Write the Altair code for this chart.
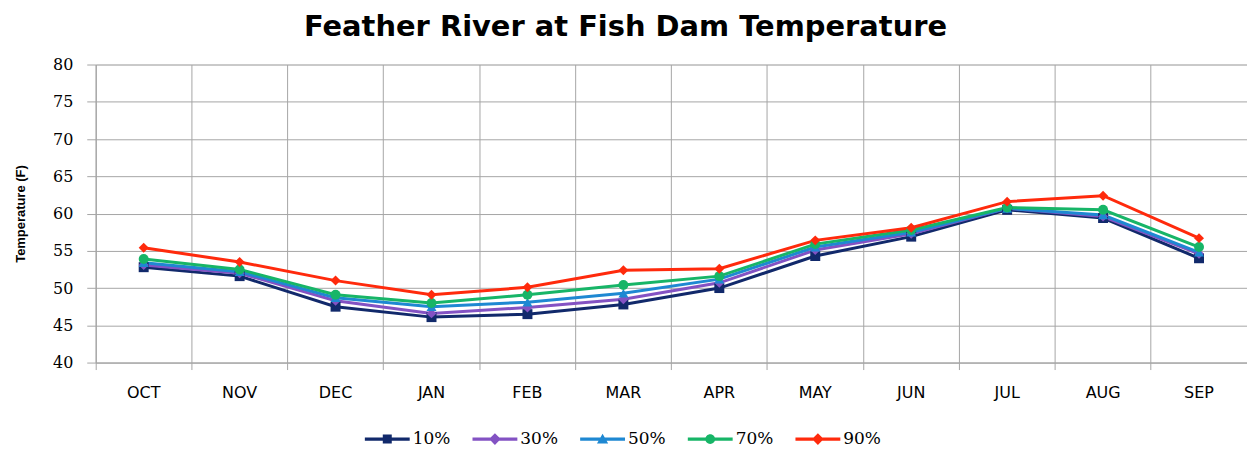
import altair as alt
import pandas as pd

months = ["OCT", "NOV", "DEC", "JAN", "FEB", "MAR", "APR", "MAY", "JUN", "JUL", "AUG", "SEP"]
series_names = ["10%", "30%", "50%", "70%", "90%"]
p10 = [52.8, 51.6, 47.5, 46.1, 46.5, 47.8, 50.0, 54.3, 56.9, 60.5, 59.4, 54.0]
p30 = [53.1, 52.0, 48.3, 46.6, 47.4, 48.5, 50.7, 55.1, 57.3, 60.7, 59.6, 54.6]
p50 = [53.4, 52.2, 48.7, 47.5, 48.1, 49.3, 51.2, 55.5, 57.5, 60.7, 59.8, 54.8]
p70 = [53.9, 52.5, 49.1, 48.0, 49.1, 50.4, 51.6, 55.9, 57.8, 60.8, 60.5, 55.5]
p90 = [55.4, 53.5, 51.0, 49.1, 50.1, 52.4, 52.6, 56.4, 58.1, 61.6, 62.4, 56.7]
colors = ["#11296B", "#8352C3", "#1E88D2", "#17B567", "#FF2A0C"]
shapes = ["square", "diamond", "triangle-up", "circle", "diamond"]

# legend glyphs: a short line with the marker in the middle
_bar = "M-1,-0.07H1V0.07H-1Z"
legend_shapes = [
    _bar + "M-0.2,-0.2H0.2V0.2H-0.2Z",
    _bar + "M0,-0.26L0.26,0L0,0.26L-0.26,0Z",
    _bar + "M0,-0.24L0.25,0.2H-0.25Z",
    _bar + "M-0.22,0A0.22,0.22,0,1,1,0.22,0A0.22,0.22,0,1,1,-0.22,0Z",
    _bar + "M0,-0.26L0.26,0L0,0.26L-0.26,0Z",
]

rows = []
for name, vals in zip(series_names, [p10, p30, p50, p70, p90]):
    for m, v in zip(months, vals):
        rows.append({"Month": m, "Series": name, "Temp": v})
df = pd.DataFrame(rows)

GRID = "#A6A6A6"

x_enc = alt.X(
    "Month:N",
    sort=months,
    scale=alt.Scale(type="band", paddingInner=0, paddingOuter=0),
    axis=alt.Axis(
        title=None, grid=True, bandPosition=0, labelAngle=0,
        labelFont="DejaVu Sans", labelFontSize=16, labelColor="#000000",
        labelPadding=15, tickSize=7, tickColor=GRID, domainColor=GRID,
        gridColor=GRID, gridWidth=1,
    ),
)
y_enc = alt.Y(
    "Temp:Q",
    scale=alt.Scale(domain=[40, 80], nice=False, zero=False),
    axis=alt.Axis(
        title="Temperature (F)", values=list(range(40, 81, 5)),
        labelFont="DejaVu Serif", labelFontSize=16, labelColor="#000000",
        labelPadding=14, tickSize=9, tickColor=GRID, domainColor=GRID,
        gridColor=GRID, gridWidth=1,
        titleFont="Liberation Sans", titleFontSize=13, titleFontWeight="bold",
        titleColor="#000000", titlePadding=25,
    ),
)


def cscale():
    return alt.Scale(domain=series_names, range=colors)


lines = alt.Chart(df).mark_line(strokeWidth=3).encode(
    x=x_enc, y=y_enc, color=alt.Color("Series:N", scale=cscale(), legend=None)
)
points = alt.Chart(df).mark_point(filled=True, size=100, opacity=1).encode(
    x=x_enc,
    y=y_enc,
    color=alt.Color("Series:N", scale=cscale(), legend=None),
    shape=alt.Shape("Series:N", scale=alt.Scale(domain=series_names, range=shapes), legend=None),
)

leg = alt.Legend(
    title=None, orient="none", legendX=270, legendY=353, direction="horizontal",
    labelFont="DejaVu Serif", labelFontSize=17, labelColor="#000000",
    labelOffset=3, symbolSize=2025, symbolStrokeWidth=0, columnPadding=22,
    padding=0,
)
legend_layer = (
    alt.Chart(df)
    .transform_filter("false")
    .mark_point(filled=True, opacity=1)
    .encode(
        x=x_enc,
        y=y_enc,
        color=alt.Color("Series:N", scale=cscale(), legend=leg),
        shape=alt.Shape("Series:N", scale=alt.Scale(domain=series_names, range=legend_shapes), legend=leg),
    )
)

chart = (
    alt.layer(lines, points, legend_layer)
    .resolve_scale(color="independent", shape="independent")
    .properties(
        width=1155,
        height=299,
        title=alt.Title(
            "Feather River at  Fish Dam Temperature",
            font="DejaVu Sans", fontSize=29, fontWeight="bold", color="#000000",
            anchor="middle", offset=15, dx=-46,
        ),
        padding={"left": 6, "right": 0, "top": 4, "bottom": 0},
    )
    .configure_view(stroke=GRID, strokeWidth=1)
    .configure(background="#FFFFFF")
)

chart.save("out.html", embed_options={"renderer": "svg", "actions": False})
